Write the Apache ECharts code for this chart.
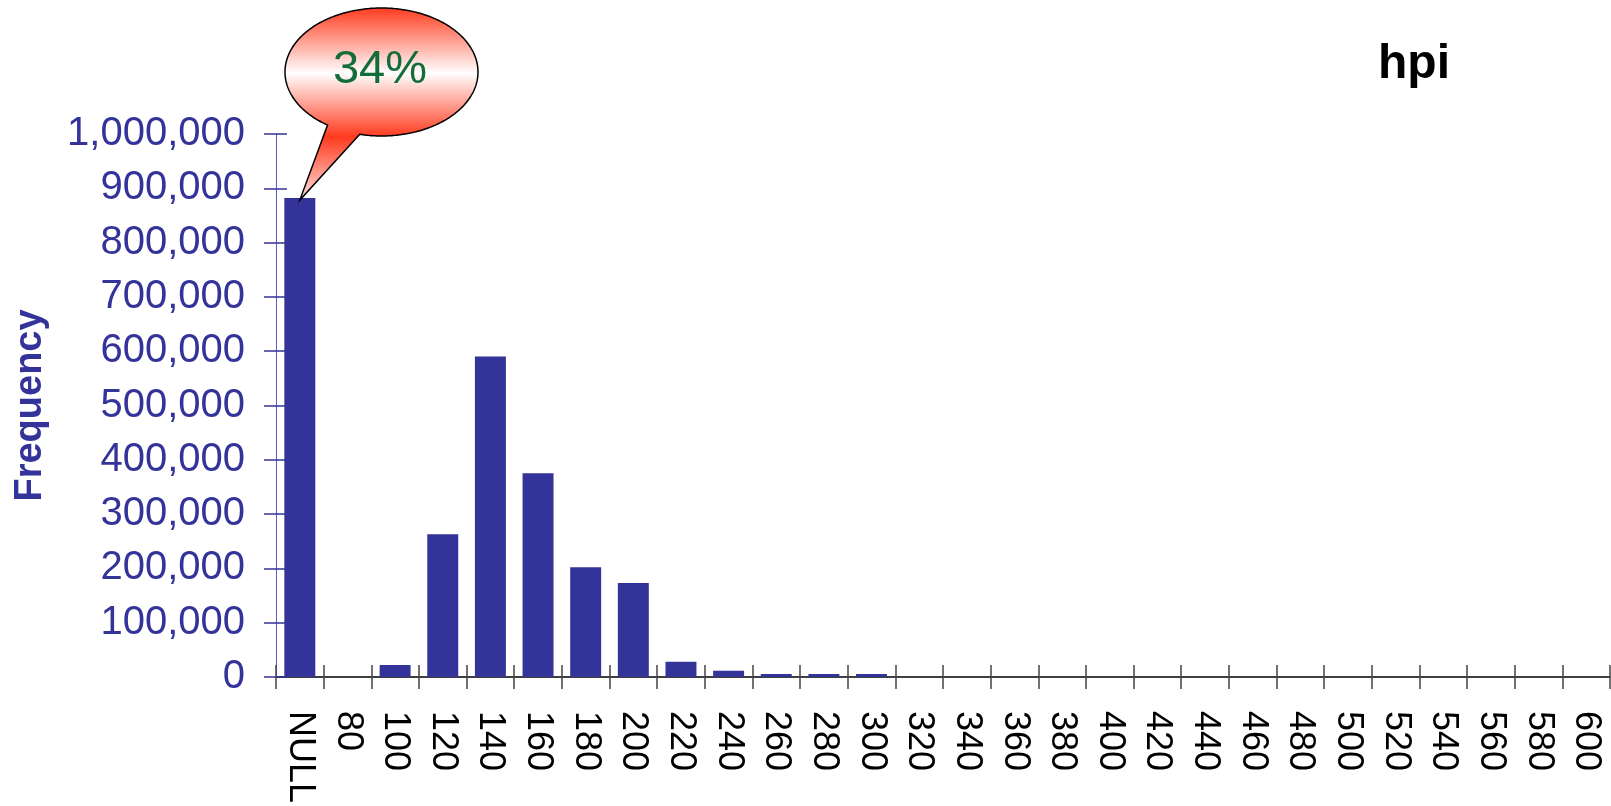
<!DOCTYPE html>
<html>
<head>
<meta charset="utf-8">
<title>hpi</title>
<script src="https://cdn.jsdelivr.net/npm/echarts@6/dist/echarts.min.js"></script>
<style>
  html, body { margin: 0; padding: 0; background: #ffffff; }
  #chart { width: 1611px; height: 806px; }
</style>
</head>
<body>
<div id="chart"></div>
<script>
// Histogram bins of hpi (NULL bucket first), and how many records fall in each.
const categories = ['NULL', '80', '100', '120', '140', '160', '180', '200', '220', '240',
  '260', '280', '300', '320', '340', '360', '380', '400', '420', '440',
  '460', '480', '500', '520', '540', '560', '580', '600'];
const frequency = [882000, 0, 22000, 263000, 590000, 375000, 202000, 173000, 28000, 11500,
  5500, 5500, 5500, 0, 0, 0, 0, 0, 0, 0,
  0, 0, 0, 0, 0, 0, 0, 0];
// Value axis range and step
const yMin = 0;
const yMax = 1000000;
const yStep = 100000;
const chartTitle = 'hpi';
const yAxisTitle = 'Frequency';

const FONT = '"Liberation Sans", Arial, Helvetica, sans-serif';
const BLUE = '#333399';

const chart = echarts.init(document.getElementById('chart'), null, { renderer: 'canvas' });

const numberFmt = v => Number(v).toLocaleString('en-US');

chart.setOption({
  backgroundColor: '#ffffff',
  animation: false,
  grid: { left: 276, right: 1, top: 134, bottom: 128, containLabel: false },
  xAxis: [
    {
      type: 'category',
      position: 'bottom',
      data: categories,
      boundaryGap: true,
      axisLine: { show: true, lineStyle: { color: '#000000', width: 1.5 } },
      axisTick: { show: true, inside: false, length: 12, interval: 0, lineStyle: { color: '#444444', width: 1.5 } },
      axisLabel: {
        show: true, interval: 0, rotate: -90, margin: 34,
        color: '#000000', fontFamily: FONT, fontSize: 36
      },
      splitLine: { show: false }
    },
    {
      // upper half of the crossing category ticks
      type: 'category',
      position: 'bottom',
      data: categories,
      boundaryGap: true,
      axisLine: { show: false },
      axisTick: { show: true, inside: true, length: 12, interval: 0, lineStyle: { color: '#444444', width: 1.5 } },
      axisLabel: { show: false },
      splitLine: { show: false }
    }
  ],
  yAxis: [
    {
      type: 'value',
      position: 'left',
      min: yMin, max: yMax, interval: yStep,
      name: yAxisTitle,
      nameLocation: 'middle',
      nameRotate: 90,
      nameGap: 226,
      nameTextStyle: { color: BLUE, fontFamily: FONT, fontSize: 38, fontWeight: 'bold' },
      axisLine: { show: true, lineStyle: { color: '#5b5bc0', width: 1 } },
      axisTick: { show: true, inside: false, length: 12, lineStyle: { color: BLUE, width: 1.5 } },
      axisLabel: {
        show: true, margin: 31, color: BLUE, fontFamily: FONT, fontSize: 40,
        formatter: numberFmt
      },
      splitLine: { show: false }
    },
    {
      // inner half of the crossing value ticks
      type: 'value',
      position: 'left',
      min: yMin, max: yMax, interval: yStep,
      axisLine: { show: false },
      axisTick: { show: true, inside: true, length: 11, lineStyle: { color: BLUE, width: 1.5 } },
      axisLabel: { show: false },
      splitLine: { show: false }
    }
  ],
  series: [
    {
      type: 'bar',
      xAxisIndex: 0,
      yAxisIndex: 0,
      data: frequency,
      barCategoryGap: '35%',
      itemStyle: { color: BLUE },
      z: 3
    }
  ]
});

// Speech-bubble callout pointing at the NULL bar, showing its share of all records.
const total = frequency.reduce((a, b) => a + b, 0);
const nullShare = Math.round(frequency[0] / total * 100) + '%';
const tip = chart.convertToPixel({ xAxisIndex: 0, yAxisIndex: 0 }, [categories[0], frequency[0]]);

const cx = 381.5, cy = 72, rx = 96.5, ry = 64;
const startDeg = 124, endDeg = 103 + 360;
const pts = [];
for (let d = startDeg; d <= endDeg; d += 1) {
  const a = d * Math.PI / 180;
  pts.push([cx + rx * Math.cos(a), cy + ry * Math.sin(a)]);
}
pts.push([tip[0], tip[1] + 2]);

chart.setOption({
  graphic: [
    {
      type: 'polygon',
      z: 100,
      shape: { points: pts },
      style: {
        fill: new echarts.graphic.LinearGradient(0, 0, 0, 1, [
          { offset: 0, color: '#ff3a1e' },
          { offset: 0.34, color: '#ffffff' },
          { offset: 0.67, color: '#ff3a1e' },
          { offset: 1, color: '#ffe4e4' }
        ]),
        stroke: '#000000',
        lineWidth: 1.5,
        lineJoin: 'miter'
      }
    },
    {
      type: 'text',
      z: 101,
      x: 380, y: 70,
      style: {
        text: nullShare,
        fill: '#136d3b',
        font: '47px ' + FONT,
        align: 'center',
        verticalAlign: 'middle'
      }
    },
    {
      type: 'text',
      z: 101,
      x: 1414, y: 65,
      style: {
        text: chartTitle,
        fill: '#000000',
        font: 'bold 48px ' + FONT,
        align: 'center',
        verticalAlign: 'middle'
      }
    }
  ]
});
</script>
</body>
</html>
